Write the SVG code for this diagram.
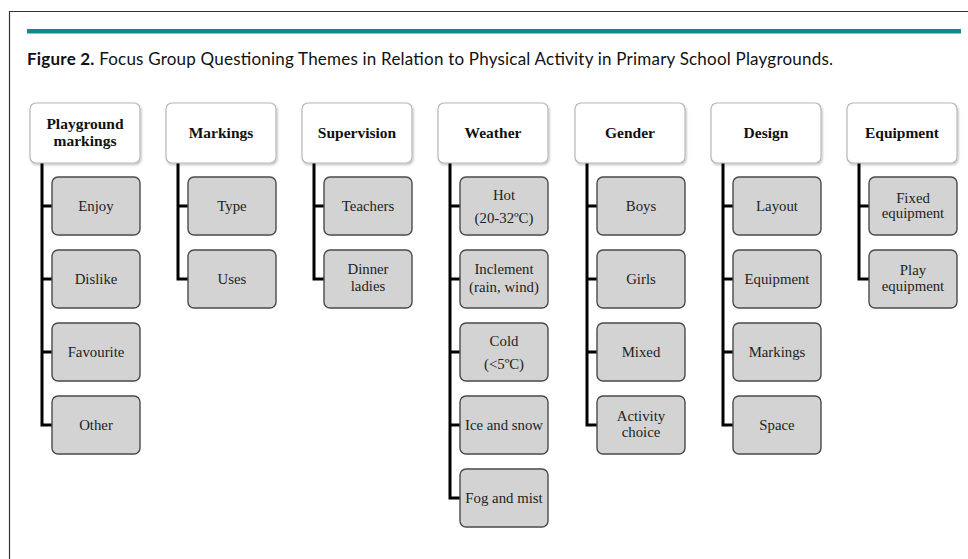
<svg xmlns="http://www.w3.org/2000/svg" width="968" height="559" viewBox="0 0 968 559">
<defs>
<filter id="sh" x="-10%" y="-10%" width="130%" height="130%">
<feDropShadow dx="1" dy="1.5" stdDeviation="1.2" flood-color="#000" flood-opacity="0.25"/>
</filter>
<style>
.frame{fill:none;stroke:#333;stroke-width:1.2}
.hd{fill:#fff;stroke:#b8b8b8;stroke-width:1.2}
.ch{fill:#d3d3d3;stroke:#4a4a4a;stroke-width:1.4}
.ht{font-family:"Liberation Serif","Times New Roman",serif;font-weight:bold;font-size:15.5px;fill:#111;text-anchor:middle}
.ct{font-family:"Liberation Serif","Times New Roman",serif;font-size:14.8px;fill:#222;text-anchor:middle}
.cn{fill:none;stroke:#000;stroke-width:3}
.title{font-family:"Lato","Open Sans",sans-serif;font-size:17px;fill:#111}
</style>
</defs>
<rect width="968" height="559" fill="#fff"/>
<path class="frame" d="M9.5 559 V11.5 H968"/>
<rect x="27" y="29" width="934" height="4.5" fill="#13898b"/>
<text class="title" x="27" y="65" textLength="806" lengthAdjust="spacing"><tspan font-weight="bold">Figure 2.</tspan> Focus Group Questioning Themes in Relation to Physical Activity in Primary School Playgrounds.</text>

<g id="connectors">
<path class="cn" d="M42 163 V425 H52 M42 206 H52 M42 279 H52 M42 352 H52"/>
<path class="cn" d="M178 163 V279 H188 M178 206 H188"/>
<path class="cn" d="M314 163 V279 H324 M314 206 H324"/>
<path class="cn" d="M450 163 V498 H460 M450 206 H460 M450 279 H460 M450 352 H460 M450 425 H460"/>
<path class="cn" d="M587 163 V425 H597 M587 206 H597 M587 279 H597 M587 352 H597"/>
<path class="cn" d="M723 163 V425 H733 M723 206 H733 M723 279 H733 M723 352 H733"/>
<path class="cn" d="M859 163 V279 H869 M859 206 H869"/>
</g>

<g id="playground-markings">
<rect class="hd" filter="url(#sh)" x="30" y="103" width="110" height="60" rx="6"/>
<text class="ht" x="85" y="129">Playground</text>
<text class="ht" x="85" y="146">markings</text>
</g>
<g id="pm-enjoy"><rect class="ch" x="52" y="177" width="88" height="58" rx="6"/><text class="ct" x="96" y="211">Enjoy</text></g>
<g id="pm-dislike"><rect class="ch" x="52" y="250" width="88" height="58" rx="6"/><text class="ct" x="96" y="284">Dislike</text></g>
<g id="pm-favourite"><rect class="ch" x="52" y="323" width="88" height="58" rx="6"/><text class="ct" x="96" y="357">Favourite</text></g>
<g id="pm-other"><rect class="ch" x="52" y="396" width="88" height="58" rx="6"/><text class="ct" x="96" y="430">Other</text></g>

<g id="markings">
<rect class="hd" filter="url(#sh)" x="166" y="103" width="110" height="60" rx="6"/>
<text class="ht" x="221" y="138">Markings</text>
</g>
<g id="mk-type"><rect class="ch" x="188" y="177" width="88" height="58" rx="6"/><text class="ct" x="232" y="211">Type</text></g>
<g id="mk-uses"><rect class="ch" x="188" y="250" width="88" height="58" rx="6"/><text class="ct" x="232" y="284">Uses</text></g>

<g id="supervision">
<rect class="hd" filter="url(#sh)" x="302" y="103" width="110" height="60" rx="6"/>
<text class="ht" x="357" y="138">Supervision</text>
</g>
<g id="sv-teachers"><rect class="ch" x="324" y="177" width="88" height="58" rx="6"/><text class="ct" x="368" y="211">Teachers</text></g>
<g id="sv-dinner"><rect class="ch" x="324" y="250" width="88" height="58" rx="6"/><text class="ct" x="368" y="274">Dinner</text><text class="ct" x="368" y="291">ladies</text></g>

<g id="weather">
<rect class="hd" filter="url(#sh)" x="438" y="103" width="110" height="60" rx="6"/>
<text class="ht" x="493" y="138">Weather</text>
</g>
<g id="wt-hot"><rect class="ch" x="460" y="177" width="88" height="58" rx="6"/><text class="ct" x="504" y="200">Hot</text><text class="ct" x="504" y="223">(20-32ºC)</text></g>
<g id="wt-inclement"><rect class="ch" x="460" y="250" width="88" height="58" rx="6"/><text class="ct" x="504" y="274">Inclement</text><text class="ct" x="504" y="292">(rain, wind)</text></g>
<g id="wt-cold"><rect class="ch" x="460" y="323" width="88" height="58" rx="6"/><text class="ct" x="504" y="346">Cold</text><text class="ct" x="504" y="369">(&lt;5ºC)</text></g>
<g id="wt-ice"><rect class="ch" x="460" y="396" width="88" height="58" rx="6"/><text class="ct" x="504" y="430">Ice and snow</text></g>
<g id="wt-fog"><rect class="ch" x="460" y="469" width="88" height="58" rx="6"/><text class="ct" x="504" y="503">Fog and mist</text></g>

<g id="gender">
<rect class="hd" filter="url(#sh)" x="575" y="103" width="110" height="60" rx="6"/>
<text class="ht" x="630" y="138">Gender</text>
</g>
<g id="gd-boys"><rect class="ch" x="597" y="177" width="88" height="58" rx="6"/><text class="ct" x="641" y="211">Boys</text></g>
<g id="gd-girls"><rect class="ch" x="597" y="250" width="88" height="58" rx="6"/><text class="ct" x="641" y="284">Girls</text></g>
<g id="gd-mixed"><rect class="ch" x="597" y="323" width="88" height="58" rx="6"/><text class="ct" x="641" y="357">Mixed</text></g>
<g id="gd-activity"><rect class="ch" x="597" y="396" width="88" height="58" rx="6"/><text class="ct" x="641" y="421">Activity</text><text class="ct" x="641" y="437">choice</text></g>

<g id="design">
<rect class="hd" filter="url(#sh)" x="711" y="103" width="110" height="60" rx="6"/>
<text class="ht" x="766" y="138">Design</text>
</g>
<g id="ds-layout"><rect class="ch" x="733" y="177" width="88" height="58" rx="6"/><text class="ct" x="777" y="211">Layout</text></g>
<g id="ds-equipment"><rect class="ch" x="733" y="250" width="88" height="58" rx="6"/><text class="ct" x="777" y="284">Equipment</text></g>
<g id="ds-markings"><rect class="ch" x="733" y="323" width="88" height="58" rx="6"/><text class="ct" x="777" y="357">Markings</text></g>
<g id="ds-space"><rect class="ch" x="733" y="396" width="88" height="58" rx="6"/><text class="ct" x="777" y="430">Space</text></g>

<g id="equipment">
<rect class="hd" filter="url(#sh)" x="847" y="103" width="110" height="60" rx="6"/>
<text class="ht" x="902" y="138">Equipment</text>
</g>
<g id="eq-fixed"><rect class="ch" x="869" y="177" width="88" height="58" rx="6"/><text class="ct" x="913" y="203">Fixed</text><text class="ct" x="913" y="218">equipment</text></g>
<g id="eq-play"><rect class="ch" x="869" y="250" width="88" height="58" rx="6"/><text class="ct" x="913" y="275">Play</text><text class="ct" x="913" y="291">equipment</text></g>
</svg>
